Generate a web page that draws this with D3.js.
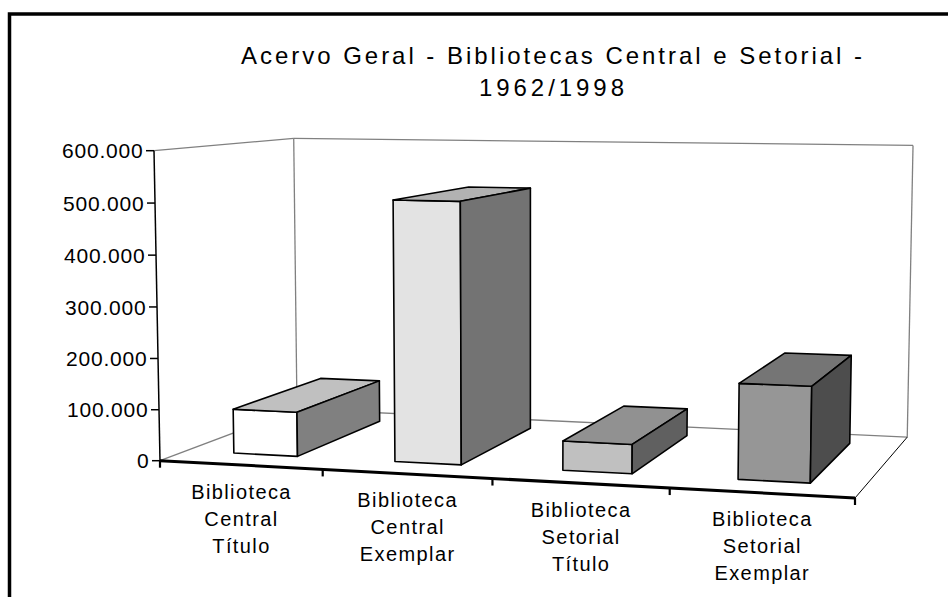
<!DOCTYPE html>
<html>
<head>
<meta charset="utf-8">
<script src="https://cdn.jsdelivr.net/npm/d3@7"></script>
<style>
  body { margin: 0; background: #fff; }
  svg { display: block; font-family: "Liberation Sans", Arial, sans-serif; }
</style>
</head>
<body>
<div id="chart"></div>
<script>
// data
var categories = ["Biblioteca Central Título", "Biblioteca Central Exemplar", "Biblioteca Setorial Título", "Biblioteca Setorial Exemplar"];
var values = [87500, 506500, 56000, 180000];
var yTickValues = [0, 100000, 200000, 300000, 400000, 500000, 600000];
var titleLines = ["Acervo Geral - Bibliotecas Central e Setorial -", "1962/1998"];

// face shades per bar
var frontColors = ["#ffffff", "#e3e3e3", "#c0c0c0", "#969696"];
var topColors = ["#c0c0c0", "#b2b2b2", "#919191", "#757575"];
var sideColors = ["#808080", "#737373", "#606060", "#4d4d4d"];

var width = 948, height = 597;

var svg = d3.select("#chart").append("svg")
  .attr("width", width)
  .attr("height", height);

// outer frame
svg.append("rect")
  .attr("x", 9.5).attr("y", 14)
  .attr("width", 1000).attr("height", 1000)
  .attr("fill", "none").attr("stroke", "#000").attr("stroke-width", 3.5);

// title
svg.selectAll(".title").data(titleLines).enter()
  .append("text")
  .attr("class", "title")
  .attr("x", 551.5)
  .attr("y", function (d, i) { return 64 + i * 32; })
  .attr("text-anchor", "middle")
  .attr("font-size", 24)
  .attr("textLength", function (d, i) { return i == 0 ? 621 : 145; })
  .attr("lengthAdjust", "spacing")
  .text(function (d) { return d; });

// perspective box: x = category, y = value, z = depth (0 front, 1 back)
var cam = {
  o: [160, 460.7],     // front bottom left
  fbr: [855, 498],     // front bottom right
  ftl: [154, 150.7],   // front top left
  bbl: [297, 409],     // back bottom left
  ex: -0.083, ey: -0.016, ez: 0.146
};
function dir(p, e) { return [p[0] * (1 + e) - cam.o[0], p[1] * (1 + e) - cam.o[1]]; }
var dx = dir(cam.fbr, cam.ex), dy = dir(cam.ftl, cam.ey), dz = dir(cam.bbl, cam.ez);

function proj(x, y, z) {
  var w = 1 + x * cam.ex + y * cam.ey + z * cam.ez;
  return [
    (cam.o[0] + x * dx[0] + y * dy[0] + z * dz[0]) / w,
    (cam.o[1] + x * dx[1] + y * dy[1] + z * dz[1]) / w
  ];
}

var xBand = d3.scaleBand().domain(categories).range([0, 1]).paddingInner(0.6).paddingOuter(0.3);
var xEdge = d3.scaleLinear().domain([0, categories.length]).range([0, 1]);
var yScale = d3.scaleLinear().domain([0, 600000]).range([0, 1]);
var zScale = d3.scaleLinear().domain([0, 1]).range([0.175, 0.84]);

var line = d3.line();
var fmt = d3.formatLocale({ decimal: ",", thousands: ".", grouping: [3], currency: ["R$", ""] }).format(",d");

// walls and floor edges
var grey = [
  [[0, 1, 0], [0, 1, 1]],
  [[0, 1, 1], [1, 1, 1]],
  [[1, 1, 1], [1, 0, 1]],
  [[0, 1, 1], [0, 0, 1]],
  [[0, 0, 0], [0, 0, 1]],
  [[0, 0, 1], [1, 0, 1]]
];
svg.append("g").selectAll("path").data(grey).enter()
  .append("path")
  .attr("d", function (d) { return line(d.map(function (p) { return proj(p[0], p[1], p[2]); })); })
  .attr("fill", "none").attr("stroke", "#808080").attr("stroke-width", 1.3);

svg.append("path")
  .attr("d", line([proj(1, 0, 1), proj(1, 0, 0)]))
  .attr("fill", "none").attr("stroke", "#000").attr("stroke-width", 1);

// bars
var bars = svg.append("g").selectAll("g").data(values).enter().append("g");
bars.each(function (v, i) {
  var g = d3.select(this);
  var x0 = xBand(categories[i]), x1 = x0 + xBand.bandwidth();
  var z0 = zScale(0), z1 = zScale(1), h = yScale(v);
  var faces = [
    { c: frontColors[i], p: [[x0, 0, z0], [x1, 0, z0], [x1, h, z0], [x0, h, z0]] },
    { c: topColors[i], p: [[x0, h, z0], [x1, h, z0], [x1, h, z1], [x0, h, z1]] },
    { c: sideColors[i], p: [[x1, 0, z0], [x1, 0, z1], [x1, h, z1], [x1, h, z0]] }
  ];
  g.selectAll("path").data(faces).enter()
    .append("path")
    .attr("d", function (f) { return line(f.p.map(function (p) { return proj(p[0], p[1], p[2]); })) + "Z"; })
    .attr("fill", function (f) { return f.c; })
    .attr("stroke", "#000")
    .attr("stroke-width", 1.6)
    .attr("stroke-linejoin", "round");
});

// x axis
svg.append("path")
  .attr("d", line([proj(0, 0, 0), proj(1, 0, 0)]))
  .attr("stroke", "#000").attr("stroke-width", 3);

svg.append("g").selectAll("line").data(d3.range(categories.length + 1)).enter()
  .append("line")
  .attr("x1", function (d) { return proj(xEdge(d), 0, 0)[0]; })
  .attr("x2", function (d) { return proj(xEdge(d), 0, 0)[0]; })
  .attr("y1", function (d) { return proj(xEdge(d), 0, 0)[1]; })
  .attr("y2", function (d) { return proj(xEdge(d), 0, 0)[1] + 7; })
  .attr("stroke", "#000").attr("stroke-width", 2.2);

// category labels
var labels = svg.append("g").selectAll("text").data(categories).enter()
  .append("text")
  .attr("text-anchor", "middle")
  .attr("font-size", 20)
  .attr("letter-spacing", 1.4)
  .attr("transform", function (d) {
    var p = proj(xBand(d) + xBand.bandwidth() / 2, 0, 0);
    return "translate(" + (p[0] + 1) + "," + (p[1] + 33.5) + ")";
  });
labels.selectAll("tspan")
  .data(function (d) { return d.split(" "); })
  .enter().append("tspan")
  .attr("x", 0)
  .attr("y", function (d, i) { return i * 27; })
  .text(function (d) { return d; });

// y axis
svg.append("path")
  .attr("d", line([proj(0, 0, 0), proj(0, 1, 0)]))
  .attr("stroke", "#000").attr("stroke-width", 1.5);

var yt = svg.append("g").selectAll("g").data(yTickValues).enter().append("g")
  .attr("transform", function (d) {
    var p = proj(0, yScale(d), 0);
    return "translate(" + p[0] + "," + p[1] + ")";
  });
yt.append("line")
  .attr("x1", -8).attr("x2", 0)
  .attr("stroke", "#000").attr("stroke-width", 1.5);
yt.append("text")
  .attr("x", -10.5)
  .attr("dy", "0.36em")
  .attr("text-anchor", "end")
  .attr("font-size", 21)
  .attr("letter-spacing", 0.8)
  .text(function (d) { return fmt(d); });
</script>
</body>
</html>
